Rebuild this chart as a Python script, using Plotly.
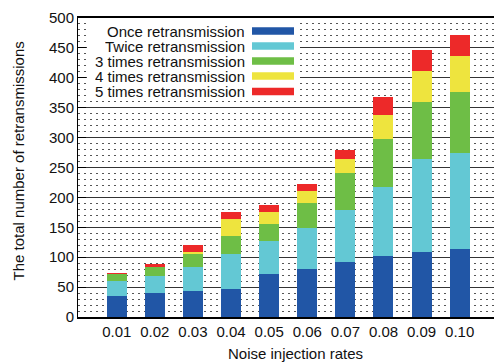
import plotly.graph_objects as go

rates = ["0.01", "0.02", "0.03", "0.04", "0.05", "0.06", "0.07", "0.08", "0.09", "0.10"]
once = [35, 40, 44, 47, 72, 80, 92, 102, 109, 114]
twice = [25, 29, 39, 59, 55, 69, 87, 116, 156, 161]
three = [13, 14, 23, 30, 29, 42, 61, 80, 95, 102]
four = [0, 0, 3, 28, 20, 20, 25, 40, 52, 60]
five = [0.5, 6, 11, 12, 12, 12, 15, 30, 35, 35]

names = ["Once retransmission", "Twice retransmission", "3 times retransmission",
         "4 times retransmission", "5 times retransmission"]
colors = ["#2156a6", "#63c8d4", "#6ebe46", "#eee43e", "#ed2929"]
series = [once, twice, three, four, five]

W, H = 494, 362
L, R, T, B = 78, 0, 18, 45
pw, ph = W - L - R, H - T - B

def px_x(x):
    return (x - L) / pw

def px_y(y):
    return (H - B - y) / ph

FONT = "Liberation Sans, Arial, Helvetica, sans-serif"

fig = go.Figure()
for name, col, vals in zip(names, colors, series):
    fig.add_trace(go.Bar(x=rates, y=vals, name=name, marker_color=col,
                         marker_line_width=0, showlegend=False))

shapes = []
annotations = []
# legend background box
shapes.append(dict(type="rect", xref="paper", yref="paper",
                   x0=px_x(87), x1=px_x(300), y0=px_y(99), y1=px_y(19.5),
                   fillcolor="white", line_width=0, layer="above"))
ys = [31, 46, 61, 76, 91.5]
for name, col, yc in zip(names, colors, ys):
    annotations.append(dict(text=name, xref="paper", yref="paper",
                            x=px_x(246), y=px_y(yc), xanchor="right", yanchor="middle",
                            height=14, borderpad=0,
                            showarrow=False, font=dict(size=15, color="#111", family=FONT)))
    shapes.append(dict(type="rect", xref="paper", yref="paper",
                       x0=px_x(252), x1=px_x(294), y0=px_y(yc + 3.8), y1=px_y(yc - 3.8),
                       fillcolor=col, line_width=0, layer="above"))

annotations.append(dict(text="Noise injection rates", xref="paper", yref="paper",
                        x=px_x(295.5), y=px_y(353), xanchor="center", yanchor="middle",
                        showarrow=False, font=dict(size=15, color="#111", family=FONT)))
annotations.append(dict(text="The total number of retransmissions", xref="paper", yref="paper",
                        x=px_x(17.5), y=px_y(161), xanchor="center", yanchor="middle",
                        textangle=-90, showarrow=False,
                        font=dict(size=15, color="#111", family=FONT)))

fig.update_layout(
    width=W, height=H,
    margin=dict(l=L, r=R, t=T, b=B, pad=0, autoexpand=False),
    paper_bgcolor="white", plot_bgcolor="white",
    barmode="stack", bargap=0.475,
    font=dict(family=FONT, size=15, color="#111"),
    shapes=shapes, annotations=annotations,
    showlegend=False,
)
fig.update_xaxes(
    type="category", range=[-1.016, 9.9], automargin=False,
    showline=True, linecolor="black", linewidth=1.5, mirror=True,
    ticks="", showgrid=False, zeroline=False,
    tickfont=dict(size=15, color="#111", family=FONT),
)
fig.update_yaxes(
    range=[0, 500], dtick=50, tick0=0, automargin=False,
    showline=True, linecolor="black", linewidth=1, mirror=False,
    ticks="inside", ticklen=8, tickcolor="black", tickwidth=1,
    showgrid=True, gridcolor="#333", gridwidth=1,
    zeroline=False,
    tickfont=dict(size=15, color="#111", family=FONT),
    minor=dict(dtick=10, showgrid=True, gridcolor="#555", gridwidth=1,
               griddash="1.5px,4.5px", ticks=""),
)

fig.write_html("out.html",
               config={"displayModeBar": False},
               post_script="document.body.style.margin='0';document.body.style.overflow='hidden';")
